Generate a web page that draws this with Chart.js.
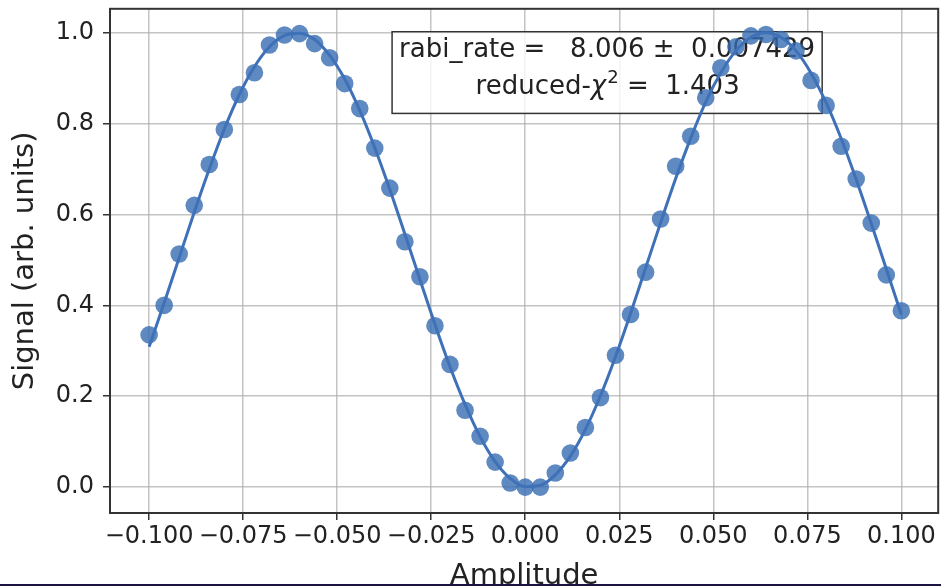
<!DOCTYPE html>
<html>
<head>
<meta charset="utf-8">
<script src="https://cdn.jsdelivr.net/npm/chart.js@4"></script>
<style>
  html, body { margin: 0; padding: 0; background: #fff; }
  #wrap { position: relative; width: 941px; height: 586px; overflow: hidden; }
  #bottomEdge { position: absolute; left: 0; bottom: 0; width: 941px; height: 2px; background: #1c1440; }
</style>
</head>
<body>
<div id="wrap">
  <canvas id="rabiChart" width="947" height="586"></canvas>
  <div id="bottomEdge"></div>
</div>
<script>
const amplitude = [
  -0.100, -0.096, -0.092, -0.088, -0.084, -0.080, -0.076, -0.072, -0.068, -0.064,
  -0.060, -0.056, -0.052, -0.048, -0.044, -0.040, -0.036, -0.032, -0.028, -0.024,
  -0.020, -0.016, -0.012, -0.008, -0.004, 0.000, 0.004, 0.008, 0.012, 0.016,
  0.020, 0.024, 0.028, 0.032, 0.036, 0.040, 0.044, 0.048, 0.052, 0.056,
  0.060, 0.064, 0.068, 0.072, 0.076, 0.080, 0.084, 0.088, 0.092, 0.096, 0.100
];
const signal = [
  0.335, 0.400, 0.513, 0.620, 0.710, 0.787, 0.864, 0.912, 0.973, 0.995,
  0.998, 0.976, 0.945, 0.888, 0.833, 0.746, 0.658, 0.540, 0.463, 0.355,
  0.270, 0.169, 0.112, 0.055, 0.009, 0.000, 0.000, 0.031, 0.075, 0.131,
  0.197, 0.290, 0.380, 0.473, 0.590, 0.706, 0.772, 0.857, 0.923, 0.969,
  0.993, 0.996, 0.985, 0.960, 0.895, 0.840, 0.750, 0.678, 0.581, 0.467, 0.388
];
// fitted curve, sampled at the same amplitudes
const fitSignal = [
  0.309, 0.405, 0.505, 0.605, 0.700, 0.788, 0.864, 0.925, 0.969, 0.994,
  0.999, 0.985, 0.950, 0.898, 0.829, 0.747, 0.655, 0.557, 0.457, 0.358,
  0.265, 0.182, 0.111, 0.056, 0.019, 0.001, 0.004, 0.027, 0.068, 0.127,
  0.201, 0.287, 0.382, 0.482, 0.582, 0.679, 0.768, 0.848, 0.912, 0.960,
  0.990, 1.000, 0.990, 0.960, 0.911, 0.846, 0.767, 0.677, 0.580, 0.480, 0.380
];
const xTicks = [-0.1, -0.075, -0.05, -0.025, 0, 0.025, 0.05, 0.075, 0.1];
const yTicks = [0, 0.2, 0.4, 0.6, 0.8, 1.0];
const fitText = {
  rate: 'rabi_rate =   8.006 \u00b1  0.007429',
  chi2: '1.403'
};

const FONT = "'DejaVu Sans', sans-serif";
const toPoints = ys => amplitude.map((x, i) => ({ x, y: ys[i] }));
const fmtX = v => v.toFixed(3).replace('-', '\u2212');

// frame round the axes + fit result box
const framePlugin = {
  id: 'frame',
  beforeDatasetsDraw(chart) {
    const { ctx, chartArea: a } = chart;
    const w = a.right - a.left, h = a.bottom - a.top;
    const bx = a.left + 0.3406 * w, by = a.top + 0.0455 * h;
    const bw = 0.5193 * w, bh = 0.162 * h;
    ctx.save();
    ctx.fillStyle = 'rgba(255,255,255,0.8)';
    ctx.fillRect(bx, by, bw, bh);
    ctx.strokeStyle = '#333';
    ctx.lineWidth = 1.5;
    ctx.strokeRect(bx, by, bw, bh);

    const cx = bx + bw / 2;
    ctx.fillStyle = '#222';
    ctx.textBaseline = 'alphabetic';
    ctx.font = '26px ' + FONT;
    ctx.textAlign = 'center';
    ctx.fillText(fitText.rate, cx, by + 25);

    // reduced-χ² line, drawn in pieces
    ctx.textAlign = 'left';
    const p1 = 'reduced-', p3 = ' =  ' + fitText.chi2;
    ctx.font = '26px ' + FONT;
    const w1 = ctx.measureText(p1).width, w3 = ctx.measureText(p3).width;
    ctx.font = 'italic 26px ' + FONT;
    const w2 = ctx.measureText('\u03c7').width;
    ctx.font = '18px ' + FONT;
    const wSup = ctx.measureText('2').width;
    let x = cx - (w1 + w2 + wSup + w3) / 2;
    const yb = by + 62;
    ctx.font = '26px ' + FONT;
    ctx.fillText(p1, x, yb); x += w1;
    ctx.font = 'italic 26px ' + FONT;
    ctx.fillText('\u03c7', x, yb); x += w2 + 1;
    ctx.font = '18px ' + FONT;
    ctx.fillText('2', x, yb - 11); x += wSup;
    ctx.font = '26px ' + FONT;
    ctx.fillText(p3, x, yb);
    ctx.restore();
  },
  afterDraw(chart) {
    const { ctx, chartArea: a } = chart;
    ctx.save();
    ctx.strokeStyle = '#333';
    ctx.lineWidth = 2;
    ctx.strokeRect(a.left, a.top, a.right - a.left, a.bottom - a.top);
    ctx.restore();
  }
};

new Chart(document.getElementById('rabiChart'), {
  type: 'scatter',
  data: {
    datasets: [
      {
        label: 'fit',
        type: 'line',
        data: toPoints(fitSignal),
        borderColor: 'rgb(62,113,184)',
        borderWidth: 3,
        pointRadius: 0,
        fill: false,
        cubicInterpolationMode: 'monotone',
        order: 0
      },
      {
        label: 'data',
        data: toPoints(signal),
        backgroundColor: 'rgba(55,107,178,0.8)',
        borderWidth: 0,
        pointRadius: 8.8,
        pointHoverRadius: 8.8,
        order: 1
      }
    ]
  },
  options: {
    responsive: false,
    animation: false,
    events: [],
    layout: { padding: { top: 7, right: 0, left: 8, bottom: 0 } },
    plugins: { legend: { display: false }, tooltip: { enabled: false } },
    scales: {
      x: {
        type: 'linear',
        min: -0.1104,
        max: 0.1098,
        afterBuildTicks: s => { s.ticks = xTicks.map(v => ({ value: v })); },
        afterFit: s => { s.height = 73; s.paddingLeft = 0; s.paddingRight = 0; },
        ticks: {
          color: '#222',
          font: { family: FONT, size: 24 },
          padding: 2,
          maxRotation: 0,
          autoSkip: false,
          callback: v => fmtX(v)
        },
        grid: { color: 'rgba(176,176,176,0.75)', lineWidth: 1.5, tickLength: 7, tickColor: '#333' },
        border: { display: false },
        title: {
          display: true,
          text: 'Amplitude',
          color: '#222',
          font: { family: FONT, size: 29 },
          padding: { top: 0, bottom: -8 }
        }
      },
      y: {
        type: 'linear',
        min: -0.057,
        max: 1.0526,
        afterBuildTicks: s => { s.ticks = yTicks.map(v => ({ value: v })); },
        afterFit: s => { s.width = 102; s.paddingTop = 0; s.paddingBottom = 0; },
        ticks: {
          color: '#222',
          font: { family: FONT, size: 24 },
          padding: 9,
          callback: v => v.toFixed(1)
        },
        grid: { color: 'rgba(176,176,176,0.75)', lineWidth: 1.5, tickLength: 7, tickColor: '#333' },
        border: { display: false },
        title: {
          display: true,
          text: 'Signal (arb. units)',
          color: '#222',
          font: { family: FONT, size: 29 },
          padding: { top: 0, bottom: 0 }
        }
      }
    }
  },
  plugins: [framePlugin]
});
</script>
</body>
</html>
